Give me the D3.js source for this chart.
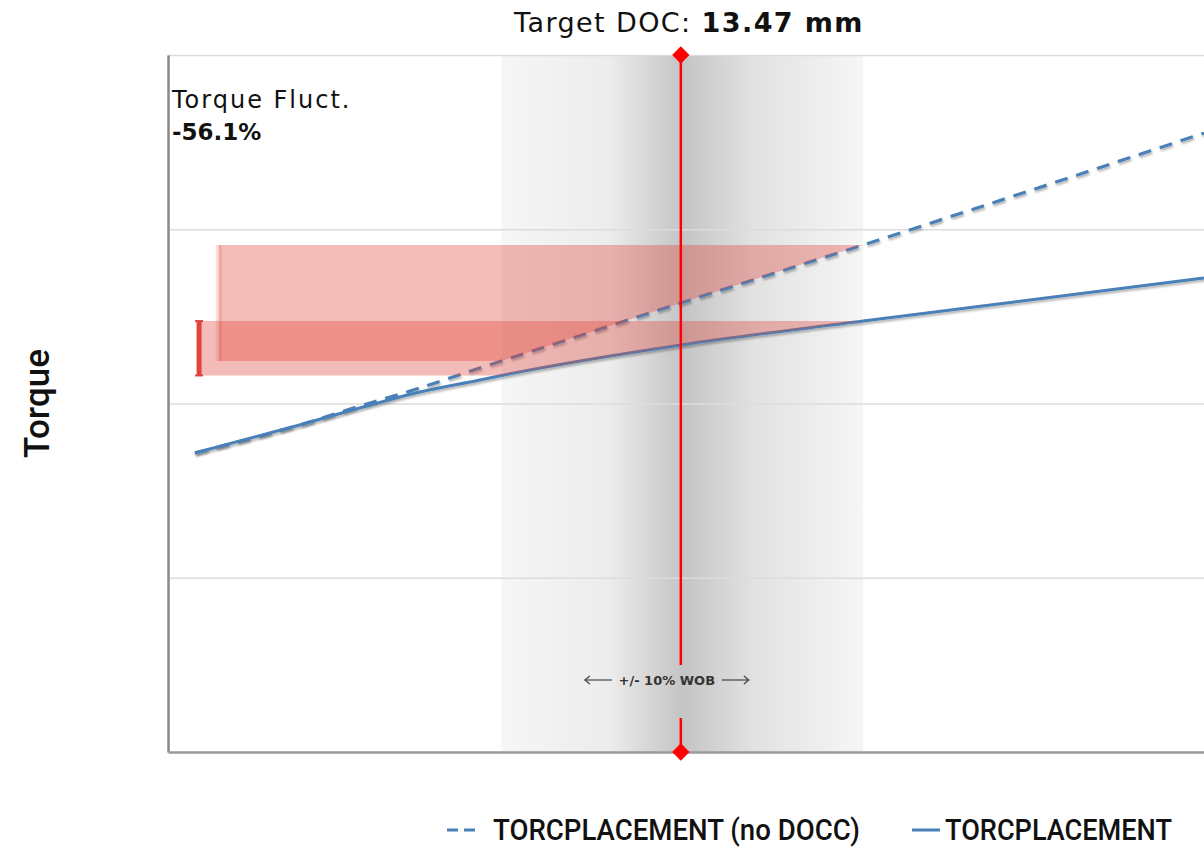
<!DOCTYPE html>
<html>
<head>
<meta charset="utf-8">
<script src="https://cdn.jsdelivr.net/npm/d3@7"></script>
<style>
  html, body { margin: 0; padding: 0; background: #fff; }
  svg { display: block; }
</style>
</head>
<body>
<div id="chart"></div>
<script>
// Données (x : position relative 0-100, y : couple 0-4)
const docX = [2.6, 12.7, 18.5, 24.3, 30.1, 32.2, 49.5, 67.1, 100];
const torqueDocc = [1.716, 1.877, 1.974, 2.066, 2.135, 2.161, 2.336, 2.473, 2.720];
const torqueNoDocc = [1.716, 1.877, 1.985, 2.089, 2.204, 2.244, 2.577, 2.910, 3.552];
const gridValues = [1, 2, 3, 4];
const bandLo = 32.2, targetX = 49.5, bandHi = 67.1;
const fluctBarX = [3.0, 4.9]; // barre TORCPLACEMENT, barre sans DOCC
const targetDoc = "13.47 mm";
const fluctValue = "-56.1%";
const legendLabels = ["TORCPLACEMENT (no DOCC)", "TORCPLACEMENT"];

const width = 1204, height = 849;
const margin = { top: 55, right: 0, bottom: 97, left: 168 };
const blue = "#4a80b8", red = "#e0443b";
const wideFont = "'DejaVu Sans', sans-serif";

const svg = d3.select("#chart").append("svg")
    .attr("width", width)
    .attr("height", height);

const x = d3.scaleLinear().domain([0, 100]).range([margin.left, width - margin.right]);
const y = d3.scaleLinear().domain([0, 4]).range([height - margin.bottom, margin.top]);

const defs = svg.append("defs");
const grad = defs.append("linearGradient").attr("id", "band-grad")
    .attr("x1", "0%").attr("x2", "100%").attr("y1", "0%").attr("y2", "0%");
[[0, "#f6f6f6"], [0.3, "#ececec"], [0.5, "#c4c4c4"], [0.7, "#e2e2e2"], [1, "#f6f6f6"]]
    .forEach(([o, c]) => grad.append("stop").attr("offset", o).attr("stop-color", c));
defs.append("filter").attr("id", "shadow").attr("x", "-5%").attr("y", "-20%")
    .attr("width", "110%").attr("height", "140%")
  .append("feDropShadow")
    .attr("dx", 1).attr("dy", 2).attr("stdDeviation", 1.2)
    .attr("flood-color", "#000").attr("flood-opacity", 0.3);

// bande grise +/- 10% WOB
svg.append("rect")
    .attr("x", x(bandLo)).attr("y", y(4))
    .attr("width", x(bandHi) - x(bandLo))
    .attr("height", y(0) - y(4))
    .attr("fill", "url(#band-grad)");

// grille horizontale
svg.append("g")
    .attr("transform", `translate(${margin.left},0)`)
    .call(d3.axisLeft(y).tickValues(gridValues).tickSize(-(width - margin.left - margin.right)).tickFormat(""))
    .call(g => g.select(".domain").remove())
    .call(g => g.selectAll("line").attr("stroke", "#dcdcdc").attr("stroke-width", 1.5));

// courbes
const pts = arr => docX.map((d, i) => [d, arr[i]]);
const line = d3.line().x(d => x(d[0])).y(d => y(d[1])).curve(d3.curveMonotoneX);

svg.append("path")
    .attr("d", line(pts(torqueNoDocc)))
    .attr("fill", "none")
    .attr("stroke", blue)
    .attr("stroke-width", 3.2)
    .attr("stroke-dasharray", "13,9")
    .attr("filter", "url(#shadow)");

svg.append("path")
    .attr("d", line(pts(torqueDocc)))
    .attr("fill", "none")
    .attr("stroke", blue)
    .attr("stroke-width", 3)
    .attr("filter", "url(#shadow)");

// zones de fluctuation (rouge) : du bord gauche jusqu'à la courbe dans la bande
function fluctArea(series, barX) {
    const iLo = docX.indexOf(bandLo), iHi = docX.indexOf(bandHi);
    const data = [[barX, series[iLo]]].concat(pts(series).slice(iLo, iHi + 1));
    return { top: series[iHi], lo: series[iLo], data };
}
const area = top => d3.area().x(d => x(d[0])).y0(y(top)).y1(d => y(d[1]));

const fu = fluctArea(torqueNoDocc, fluctBarX[1]);
const fl = fluctArea(torqueDocc, fluctBarX[0]);
[fu, fl].forEach(f => {
    svg.append("path")
        .attr("d", area(f.top)(f.data))
        .attr("fill", red)
        .attr("fill-opacity", 0.36);
});

// barres à gauche
svg.append("rect")
    .attr("x", x(fluctBarX[1]) - 3).attr("y", y(fu.top))
    .attr("width", 6).attr("height", y(fu.lo) - y(fu.top))
    .attr("fill", red).attr("fill-opacity", 0.18);
svg.append("rect")
    .attr("x", x(fluctBarX[0]) - 2.5).attr("y", y(fl.top))
    .attr("width", 5).attr("height", y(fl.lo) - y(fl.top))
    .attr("fill", red);
svg.selectAll(".cap")
    .data([fl.top, fl.lo])
    .join("rect")
    .attr("x", x(fluctBarX[0]) - 4).attr("y", d => y(d) - 1)
    .attr("width", 8).attr("height", 2)
    .attr("fill", red);

// axes
svg.append("g")
    .attr("transform", `translate(${margin.left},0)`)
    .call(d3.axisLeft(y).tickValues([]).tickSizeOuter(0))
    .select(".domain").attr("stroke", "#888").attr("stroke-width", 2.5);
svg.append("g")
    .attr("transform", `translate(0,${y(0)})`)
    .call(d3.axisBottom(x).tickValues([]).tickSizeOuter(0))
    .select(".domain").attr("stroke", "#999").attr("stroke-width", 2.5);

// ligne cible
const labelY = y(0) - 72;
svg.append("line")
    .attr("x1", x(targetX)).attr("x2", x(targetX))
    .attr("y1", y(4)).attr("y2", labelY - 15)
    .attr("stroke", "#ff0000").attr("stroke-width", 2.5);
svg.append("line")
    .attr("x1", x(targetX)).attr("x2", x(targetX))
    .attr("y1", labelY + 38).attr("y2", y(0))
    .attr("stroke", "#ff0000").attr("stroke-width", 2.5);
svg.selectAll(".diamond")
    .data([4, 0])
    .join("path")
    .attr("d", d3.symbol(d3.symbolSquare, 150))
    .attr("transform", d => `translate(${x(targetX)},${y(d)}) rotate(45)`)
    .attr("fill", "#ff0000");

// étiquette +/- 10% WOB
const labelCx = x(targetX) - 14;
svg.append("text")
    .attr("x", labelCx).attr("y", labelY + 5)
    .attr("text-anchor", "middle")
    .style("font-family", wideFont)
    .style("font-size", "13px")
    .style("font-weight", 700)
    .style("fill", "#333")
    .text("+/- 10% WOB");
[-1, 1].forEach(dir => {
    const x0 = labelCx + dir * 55, x1 = labelCx + dir * 82;
    svg.append("line")
        .attr("x1", x0).attr("x2", x1).attr("y1", labelY).attr("y2", labelY)
        .attr("stroke", "#444").attr("stroke-width", 1.2);
    svg.append("path")
        .attr("d", `M${x1 - dir * 5},${labelY - 4}L${x1},${labelY}L${x1 - dir * 5},${labelY + 4}`)
        .attr("fill", "none").attr("stroke", "#444").attr("stroke-width", 1.2);
});

// textes
const title = svg.append("text")
    .attr("x", 689).attr("y", 32)
    .attr("text-anchor", "middle")
    .style("font-family", wideFont)
    .style("font-size", "27px")
    .style("letter-spacing", "1.4px")
    .style("fill", "#111");
title.append("tspan").text("Target DOC: ");
title.append("tspan").style("font-weight", 700).text(targetDoc);

svg.append("text")
    .attr("x", 172).attr("y", 108)
    .style("font-family", wideFont)
    .style("font-size", "24px")
    .style("letter-spacing", "2px")
    .style("fill", "#111")
    .text("Torque Fluct.");
svg.append("text")
    .attr("x", 172).attr("y", 140)
    .style("font-family", wideFont)
    .style("font-size", "23px")
    .style("font-weight", 700)
    .style("fill", "#111")
    .text(fluctValue);

svg.append("text")
    .attr("transform", `translate(49,${(y(0) + y(4)) / 2}) rotate(-90)`)
    .attr("text-anchor", "middle")
    .style("font-family", "Roboto, sans-serif")
    .style("font-size", "35px")
    .style("font-weight", 500)
    .style("fill", "#111")
    .text("Torque");

// légende
const legend = svg.append("g").attr("transform", `translate(0,${height - 9})`);
const legendItems = [
    { x: 447, dash: "11,6", label: legendLabels[0], tx: 493, w: 367 },
    { x: 912, dash: null, label: legendLabels[1], tx: 945, w: 227 }
];
legendItems.forEach(d => {
    legend.append("line")
        .attr("x1", d.x).attr("x2", d.x + 28)
        .attr("y1", -10).attr("y2", -10)
        .attr("stroke", blue).attr("stroke-width", 3)
        .attr("stroke-dasharray", d.dash);
    legend.append("text")
        .attr("x", d.tx).attr("y", 0)
        .attr("textLength", d.w)
        .attr("lengthAdjust", "spacingAndGlyphs")
        .style("font-family", "Roboto, sans-serif")
        .style("font-size", "29px")
        .style("font-weight", 500)
        .style("fill", "#111")
        .text(d.label);
});
</script>
</body>
</html>
